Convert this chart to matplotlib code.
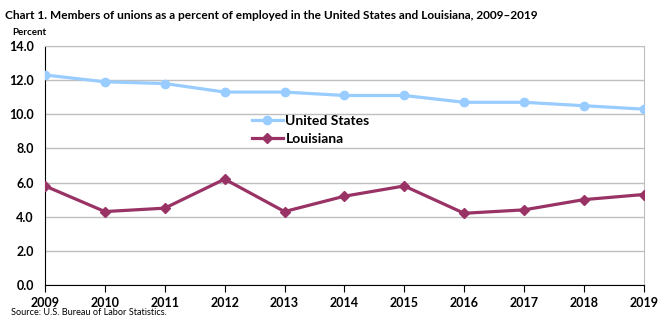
import matplotlib.pyplot as plt

years = [2009, 2010, 2011, 2012, 2013, 2014, 2015, 2016, 2017, 2018, 2019]
united_states = [12.3, 11.9, 11.8, 11.3, 11.3, 11.1, 11.1, 10.7, 10.7, 10.5, 10.3]
louisiana = [5.8, 4.3, 4.5, 6.2, 4.3, 5.2, 5.8, 4.2, 4.4, 5.0, 5.3]
y_ticks = [0, 2, 4, 6, 8, 10, 12, 14]

plt.rcParams["font.family"] = ["Lato", "DejaVu Sans"]

fig = plt.figure(figsize=(6.65, 3.26), dpi=100)
ax = fig.add_axes([0.0677, 0.1258, 0.9003, 0.7332])

ax.plot(years, united_states, color="#99CCFF", lw=2.3, marker="o", ms=6,
        label="United States", zorder=3)
ax.plot(years, louisiana, color="#993366", lw=2.3, marker="D", ms=5,
        label="Louisiana", zorder=3)

ax.set_xlim(years[0], years[-1])
ax.set_ylim(0, 14)
ax.set_xticks(years)
ax.set_yticks(y_ticks)
ax.set_yticklabels([f"{v:.1f}" for v in y_ticks])
ax.grid(axis="y", color="#BFBFBF", lw=1)
ax.set_axisbelow(True)

for side in ("top", "right"):
    ax.spines[side].set_color("#BFBFBF")
for side in ("left", "bottom"):
    ax.spines[side].set_color("black")
ax.tick_params(axis="y", length=0, pad=8, labelsize=9)
ax.tick_params(axis="x", length=5, direction="out", pad=4, labelsize=9)
for lbl in ax.get_xticklabels() + ax.get_yticklabels():
    lbl.set_fontweight("bold")

ax.legend(loc="upper left", bbox_to_anchor=(0.325, 0.765), frameon=False,
          handlelength=2.2, handletextpad=0.2, labelspacing=0.45,
          prop={"weight": "bold", "size": 10})

fig.text(0.008, 0.952, "Chart 1. Members of unions as a percent of employed in the United States and Louisiana, 2009\u20132019",
         fontsize=8.6, fontweight="bold", va="center")
fig.text(0.018, 0.9, "Percent", fontsize=7, fontweight="bold", va="center")
fig.text(0.016, 0.04, "Source: U.S. Bureau of Labor Statistics.", fontsize=6.6, va="center")

fig.savefig("out.png", dpi=100)
